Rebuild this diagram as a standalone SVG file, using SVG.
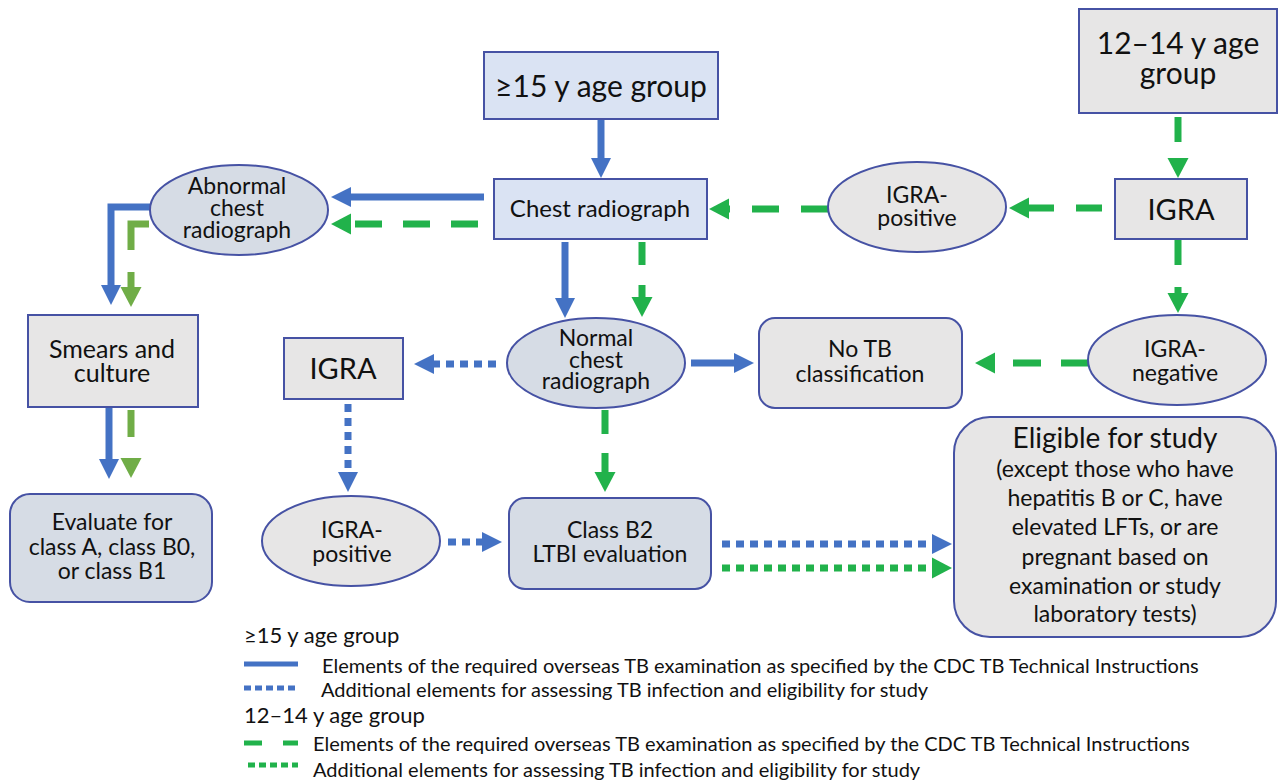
<svg xmlns="http://www.w3.org/2000/svg" width="1278" height="780" viewBox="0 0 1278 780">
<style>
.t{font-family:Lato,"Liberation Sans",sans-serif;fill:#111;text-anchor:middle}
.l{font-family:Lato,"Liberation Sans",sans-serif;fill:#111}
.nb{stroke:#4652a4;stroke-width:2}
.fb{fill:#dae3f3}.fg{fill:#e7e6e6}.fs{fill:#d6dce5}
.c{fill:none;stroke-width:7}
.bl{stroke:#4472c4}.gr{stroke:#21b24b}.lg{stroke:#70ad47}
.dot{stroke-dasharray:8 6}
</style>
<defs>
<marker id="hb" viewBox="0 -11 22 22" markerWidth="22" markerHeight="22" refX="0" refY="0" orient="auto" markerUnits="userSpaceOnUse"><path d="M0,-10 L20,0 L0,10 Z" fill="#4472c4"/></marker>
<marker id="hg" viewBox="0 -11 22 22" markerWidth="22" markerHeight="22" refX="0" refY="0" orient="auto" markerUnits="userSpaceOnUse"><path d="M0,-10.5 L20,0 L0,10.5 Z" fill="#21b24b"/></marker>
<marker id="hl" viewBox="0 -11 22 22" markerWidth="22" markerHeight="22" refX="0" refY="0" orient="auto" markerUnits="userSpaceOnUse"><path d="M0,-10.5 L20,0 L0,10.5 Z" fill="#70ad47"/></marker>
</defs>
<g id="connectors">
<path class="c bl" d="M601,120 L601,158" marker-end="url(#hb)"/>
<path class="c bl" d="M484,197 L351,197" marker-end="url(#hb)"/>
<path class="c gr" d="M478,224 L351,224" stroke-dasharray="27 21" marker-end="url(#hg)"/>
<path class="c bl" d="M152,207 L111,207 L111,285" marker-end="url(#hb)"/>
<path class="c lg" d="M149,224 L131,224 L131,287" stroke-dasharray="44 22 15 50" marker-end="url(#hl)"/>
<path class="c bl" d="M565,242 L565,298" marker-end="url(#hb)"/>
<path class="c gr" d="M642,242 L642,297" stroke-dasharray="23 20" marker-end="url(#hg)"/>
<path class="c gr" d="M1102,208 L1029,208" stroke-dasharray="26 22" marker-end="url(#hg)"/>
<path class="c gr" d="M828,209 L729,209" stroke-dasharray="27 22" marker-end="url(#hg)"/>
<path class="c gr" d="M1178,117 L1178,158" stroke-dasharray="25 20" marker-end="url(#hg)"/>
<path class="c gr" d="M1178,240 L1178,293" stroke-dasharray="25 22" marker-end="url(#hg)"/>
<path class="c gr" d="M1089,363 L995,363" stroke-dasharray="28 20" marker-end="url(#hg)"/>
<path class="c bl" d="M691,363 L734,363" marker-end="url(#hb)"/>
<path class="c bl dot" d="M496,364 L434,364" marker-end="url(#hb)"/>
<path class="c bl dot" d="M348,404 L348,472" marker-end="url(#hb)"/>
<path class="c bl dot" d="M448,542 L482,542" marker-end="url(#hb)"/>
<path class="c gr" d="M605,410 L605,472" stroke-dasharray="24 19" marker-end="url(#hg)"/>
<path class="c bl dot" d="M722,544 L932,544" marker-end="url(#hb)"/>
<path class="c gr dot" d="M722,568 L932,568" marker-end="url(#hg)"/>
<path class="c bl" d="M109,407 L109,459" marker-end="url(#hb)"/>
<path class="c lg" d="M131,410 L131,458" stroke-dasharray="27 21" marker-end="url(#hl)"/>
</g>
<g id="n-ge15"><rect class="nb fb" x="484" y="52" width="234" height="67"/><text class="t" x="601" y="97" font-size="30">≥15 y age group</text></g>
<g id="n-1214"><rect class="nb fg" x="1079" y="9" width="198" height="104"/><text class="t" x="1178" y="54" font-size="30">12–14 y age</text><text class="t" x="1178" y="84" font-size="30">group</text></g>
<g id="n-chest"><rect class="nb fb" x="494" y="179" width="213" height="60"/><text class="t" x="600" y="217" font-size="24">Chest radiograph</text></g>
<g id="n-abnormal"><ellipse class="nb fs" cx="239" cy="210" rx="89" ry="45"/><text class="t" x="237" y="194" font-size="23">Abnormal</text><text class="t" x="237" y="216" font-size="23">chest</text><text class="t" x="237" y="238" font-size="23">radiograph</text></g>
<g id="n-igrapos1"><ellipse class="nb fg" cx="917" cy="207" rx="89" ry="45"/><text class="t" x="917" y="203" font-size="23">IGRA-</text><text class="t" x="917" y="226" font-size="23">positive</text></g>
<g id="n-igra1"><rect class="nb fg" x="1115" y="179" width="132" height="60"/><text class="t" x="1181" y="220" font-size="29">IGRA</text></g>
<g id="n-smears"><rect class="nb fg" x="28" y="315" width="170" height="92"/><text class="t" x="112" y="358" font-size="25">Smears and</text><text class="t" x="112" y="382" font-size="25">culture</text></g>
<g id="n-normal"><ellipse class="nb fs" cx="596" cy="363" rx="89" ry="45"/><text class="t" x="596" y="346" font-size="23">Normal</text><text class="t" x="596" y="368" font-size="23">chest</text><text class="t" x="596" y="389" font-size="23">radiograph</text></g>
<g id="n-notb"><rect class="nb fg" x="759" y="318" width="203" height="90" rx="16"/><text class="t" x="860" y="357" font-size="23">No TB</text><text class="t" x="860" y="382" font-size="23">classification</text></g>
<g id="n-igraneg"><ellipse class="nb fg" cx="1177" cy="360" rx="89" ry="45"/><text class="t" x="1175" y="357" font-size="23">IGRA-</text><text class="t" x="1175" y="381" font-size="23">negative</text></g>
<g id="n-igra2"><rect class="nb fg" x="284" y="338" width="119" height="61"/><text class="t" x="343" y="379" font-size="29">IGRA</text></g>
<g id="n-evaluate"><rect class="nb fs" x="10" y="494" width="202" height="108" rx="20"/><text class="t" x="112" y="530" font-size="23">Evaluate for</text><text class="t" x="112" y="555" font-size="23">class A, class B0,</text><text class="t" x="112" y="579" font-size="23">or class B1</text></g>
<g id="n-igrapos2"><ellipse class="nb fg" cx="351" cy="541" rx="89" ry="45"/><text class="t" x="352" y="538" font-size="23">IGRA-</text><text class="t" x="352" y="562" font-size="23">positive</text></g>
<g id="n-classb2"><rect class="nb fs" x="509" y="498" width="202" height="91" rx="16"/><text class="t" x="610" y="538" font-size="23">Class B2</text><text class="t" x="610" y="562" font-size="23">LTBI evaluation</text></g>
<g id="n-eligible"><rect class="nb fg" x="954" y="417" width="322" height="220" rx="36"/>
<text class="t" x="1115" y="448" font-size="28">Eligible for study</text>
<text class="t" x="1115" y="477" font-size="23">(except those who have</text>
<text class="t" x="1115" y="506" font-size="23">hepatitis B or C, have</text>
<text class="t" x="1115" y="535" font-size="23">elevated LFTs, or are</text>
<text class="t" x="1115" y="565" font-size="23">pregnant based on</text>
<text class="t" x="1115" y="594" font-size="23">examination or study</text>
<text class="t" x="1115" y="622" font-size="23">laboratory tests)</text></g>
<g id="legend">
<text class="l" x="244" y="643" font-size="22">≥15 y age group</text>
<path d="M244,664 L298,664" stroke="#4472c4" stroke-width="5"/>
<text class="l" x="322" y="673" font-size="20">Elements of the required overseas TB examination as specified by the CDC TB Technical Instructions</text>
<path d="M244,688 L298,688" stroke="#4472c4" stroke-width="5" stroke-dasharray="7 4"/>
<text class="l" x="321" y="697" font-size="20">Additional elements for assessing TB infection and eligibility for study</text>
<text class="l" x="244" y="723" font-size="22">12–14 y age group</text>
<path d="M244,743 L298,743" stroke="#21b24b" stroke-width="5" stroke-dasharray="18 21 15"/>
<text class="l" x="313" y="751" font-size="20">Elements of the required overseas TB examination as specified by the CDC TB Technical Instructions</text>
<path d="M248,765 L298,765" stroke="#21b24b" stroke-width="5" stroke-dasharray="7 4"/>
<text class="l" x="313" y="777" font-size="20">Additional elements for assessing TB infection and eligibility for study</text>
</g>
</svg>
